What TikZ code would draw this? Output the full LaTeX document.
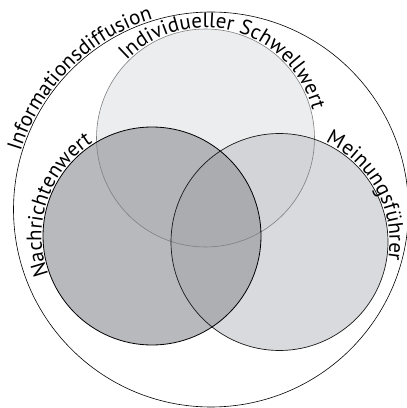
\documentclass[tikz,border=0pt]{standalone}
\usepackage{fontspec}
\setmainfont{PT Sans}
\usetikzlibrary{decorations.text}
\newcommand\lblfont{\fontsize{21}{21}\selectfont}
\definecolor{ctop}{HTML}{ECEDEF}
\definecolor{cright}{HTML}{D9DADD}
\definecolor{cleft}{HTML}{B8B9BD}
\definecolor{ctr}{HTML}{D3D4D7}
\definecolor{ctl}{HTML}{B3B4B8}
\definecolor{clr}{HTML}{AEAFB3}
\definecolor{call}{HTML}{ABACB0}
\begin{document}
\begin{tikzpicture}[x=1pt,y=1pt,
  lbl/.style={decorate, decoration={text along path, text align=center, raise=1.5pt, text={|\lblfont|#1}}}]
\useasboundingbox (0,0) rectangle (407,408);
\coordinate (oc) at (211,198.5);
\coordinate (tc) at (205.5,270);
\coordinate (lc) at (152,172);
\coordinate (rc) at (279.5,166);
% fills
\fill[ctop] (tc) circle[radius=109];
\fill[cright] (rc) circle[radius=108.5];
\fill[cleft] (lc) circle[radius=109];
\begin{scope}
  \clip (tc) circle[radius=109];
  \fill[ctr] (rc) circle[radius=108.5];
  \fill[ctl] (lc) circle[radius=109];
\end{scope}
\begin{scope}
  \clip (rc) circle[radius=108.5];
  \fill[clr] (lc) circle[radius=109];
  \clip (tc) circle[radius=109];
  \fill[call] (lc) circle[radius=109];
\end{scope}
% outlines
\draw[black!50, line width=0.6pt] (tc) circle[radius=109];
\draw[black!90, line width=0.7pt] (rc) circle[radius=108.5];
\draw[black, line width=0.8pt] (lc) circle[radius=109];
\draw[black, line width=0.6pt] (oc) circle[radius=197.5];
% labels
\path[lbl={Informationsdiffusion}] ([shift={(225:197.5)}]oc) arc[start angle=225, end angle=45, radius=197.5];
\path[lbl={Individueller Schwellwert}] ([shift={(165:109)}]tc) arc[start angle=165, end angle=-15, radius=109];
\path[lbl={Nachrichtenwert}] ([shift={(251.5:109)}]lc) arc[start angle=251.5, end angle=71.5, radius=109];
\path[lbl={Meinungsführer}] ([shift={(118:108.5)}]rc) arc[start angle=118, end angle=-62, radius=108.5];
\end{tikzpicture}
\end{document}
